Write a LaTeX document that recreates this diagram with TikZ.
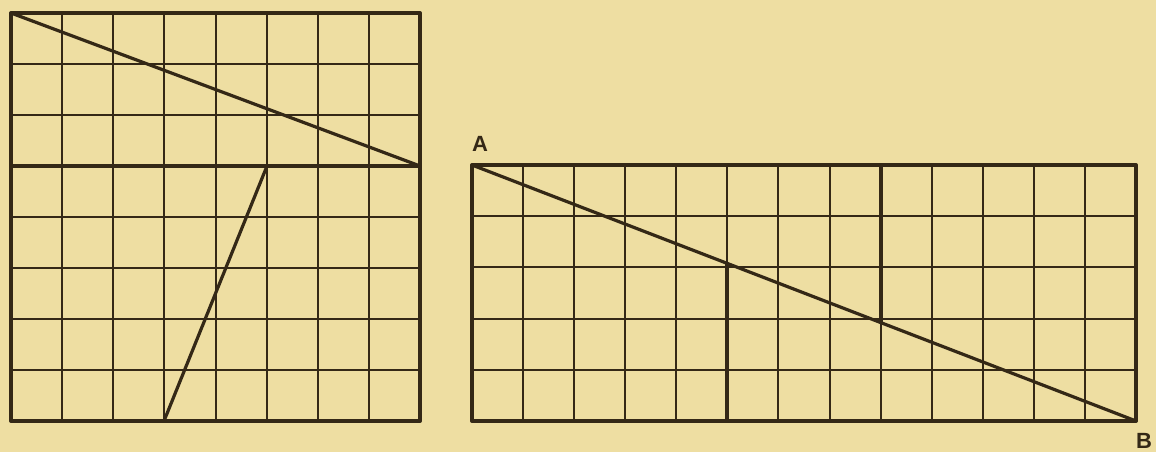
\documentclass[tikz,border=0pt]{standalone}
\usepackage{fontspec}
\setmainfont{Liberation Sans}
\definecolor{paper}{RGB}{238,222,162}
\definecolor{ink}{RGB}{52,40,22}
\begin{document}
\begin{tikzpicture}[x=1pt,y=-1pt,
  border/.style={draw=ink,line width=4pt,line cap=round,line join=round},
  gridline/.style={draw=ink,line width=2pt},
  cutline/.style={draw=ink,line width=3.2pt,line cap=round},
  lbl/.style={text=ink,font=\bfseries\fontsize{22}{22}\selectfont,inner sep=0pt}]
\fill[paper] (0,0) rectangle (1156,452);
\useasboundingbox (0,0) rectangle (1156,452);
% ---- left square 8x8 ----
\def\lx{11}\def\ly{13}\def\lcx{51.125}\def\lcy{51}
\foreach \i in {1,...,7}{
  \pgfmathsetmacro{\gx}{round(\lx+\i*\lcx)}
  \pgfmathsetmacro{\gy}{round(\ly+\i*\lcy)}
  \draw[gridline] (\gx,\ly) -- (\gx,421);
  \draw[gridline] (\lx,\gy) -- (420,\gy);
}
\coordinate (LTL) at (11,13);
\coordinate (LBR) at (420,421);
\coordinate (LML) at (11,166);
\coordinate (LMR) at (420,166);
\coordinate (LMC) at (267,166);
\coordinate (LBC) at (164,421);
\draw[border] (LTL) rectangle (LBR);
\draw[cutline] (LML) -- (LMR);
\draw[cutline] (LTL) -- (LMR);
\draw[cutline] (LMC) -- (LBC);
% ---- right rectangle 13x5 ----
\def\rx{472}\def\ry{165}\def\rcx{51.08}\def\rcy{51.2}
\foreach \i in {1,...,12}{
  \pgfmathsetmacro{\gx}{round(\rx+\i*\rcx)}
  \draw[gridline] (\gx,\ry) -- (\gx,421);
}
\foreach \i in {1,...,4}{
  \pgfmathsetmacro{\gy}{round(\ry+\i*\rcy)}
  \draw[gridline] (\rx,\gy) -- (1136,\gy);
}
\coordinate (A) at (472,165);
\coordinate (B) at (1136,421);
\coordinate (P) at (727,263.3);
\coordinate (Pb) at (727,421);
\coordinate (Q) at (881,322.7);
\coordinate (Qt) at (881,165);
\draw[border] (A) rectangle (B);
\draw[cutline] (A) -- (B);
\draw[cutline] (P) -- (Pb);
\draw[cutline] (Qt) -- (Q);
\node[lbl] (la) at (480,144) {A};
\node[lbl,anchor=south] (lb) at (1144,449) {B};
\end{tikzpicture}
\end{document}
